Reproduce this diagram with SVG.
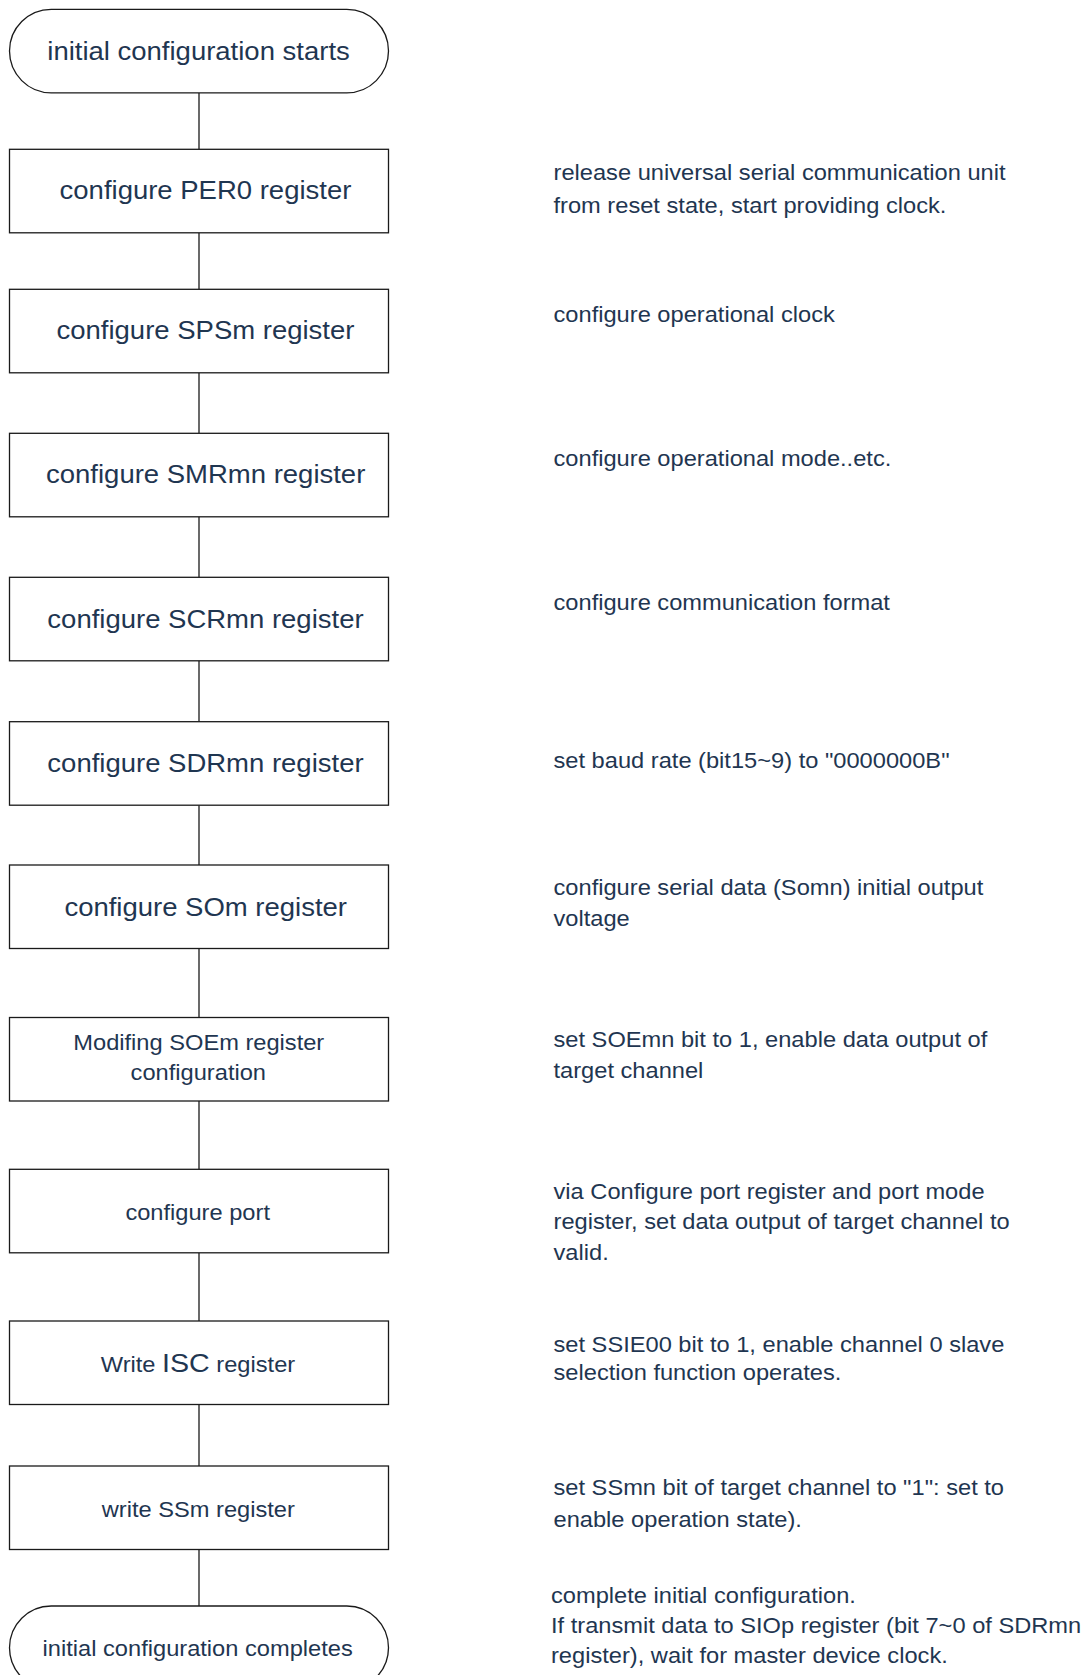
<svg xmlns="http://www.w3.org/2000/svg" width="1091" height="1675" viewBox="0 0 1091 1675">
<style>
.box{fill:#ffffff;stroke:#1a1a1a;stroke-width:1.3}
.ln{stroke:#1a1a1a;stroke-width:1.3;fill:none}
text{font-family:"Liberation Sans",Arial,sans-serif;fill:#1f3651}
.lg{font-size:25px;text-anchor:middle}
.sm{font-size:21.5px;text-anchor:middle}
.sd{font-size:21.5px}
</style>
<rect width="1091" height="1675" fill="#ffffff"/>
<g id="connectors">
<line class="ln" x1="199" y1="93" x2="199" y2="149.3"/>
<line class="ln" x1="199" y1="232.8" x2="199" y2="289.3"/>
<line class="ln" x1="199" y1="372.8" x2="199" y2="433.3"/>
<line class="ln" x1="199" y1="516.8" x2="199" y2="577.3"/>
<line class="ln" x1="199" y1="660.8" x2="199" y2="721.7"/>
<line class="ln" x1="199" y1="805.2" x2="199" y2="865"/>
<line class="ln" x1="199" y1="948.5" x2="199" y2="1017.5"/>
<line class="ln" x1="199" y1="1101" x2="199" y2="1169.3"/>
<line class="ln" x1="199" y1="1252.8" x2="199" y2="1321"/>
<line class="ln" x1="199" y1="1404.5" x2="199" y2="1466"/>
<line class="ln" x1="199" y1="1549.5" x2="199" y2="1606"/>
</g>
<g id="start">
<rect class="box" x="9.5" y="9.3" width="379" height="83.5" rx="41.7" ry="41.7"/>
<text class="lg" transform="scale(1.1 1)" x="180.5" y="60">initial configuration starts</text>
</g>
<g id="per0">
<rect class="box" x="9.5" y="149.3" width="379" height="83.5"/>
<text class="lg" transform="scale(1.1 1)" x="186.8" y="199.5">configure PER0 register</text>
</g>
<g id="spsm">
<rect class="box" x="9.5" y="289.3" width="379" height="83.5"/>
<text class="lg" transform="scale(1.1 1)" x="186.8" y="339.3">configure SPSm register</text>
</g>
<g id="smrmn">
<rect class="box" x="9.5" y="433.3" width="379" height="83.5"/>
<text class="lg" transform="scale(1.1 1)" x="187" y="482.7">configure SMRmn register</text>
</g>
<g id="scrmn">
<rect class="box" x="9.5" y="577.3" width="379" height="83.5"/>
<text class="lg" transform="scale(1.1 1)" x="186.8" y="628.3">configure SCRmn register</text>
</g>
<g id="sdrmn">
<rect class="box" x="9.5" y="721.7" width="379" height="83.5"/>
<text class="lg" transform="scale(1.1 1)" x="186.8" y="771.7">configure SDRmn register</text>
</g>
<g id="som">
<rect class="box" x="9.5" y="865" width="379" height="83.5"/>
<text class="lg" transform="scale(1.1 1)" x="187" y="916">configure SOm register</text>
</g>
<g id="soem">
<rect class="box" x="9.5" y="1017.5" width="379" height="83.5"/>
<text class="sm" transform="scale(1.1 1)" x="180.7" y="1050">Modifing SOEm register</text>
<text class="sm" transform="scale(1.1 1)" x="180.3" y="1080">configuration</text>
</g>
<g id="port">
<rect class="box" x="9.5" y="1169.3" width="379" height="83.5"/>
<text class="sm" transform="scale(1.1 1)" x="179.7" y="1220">configure port</text>
</g>
<g id="isc">
<rect class="box" x="9.5" y="1321" width="379" height="83.5"/>
<text class="sm" transform="scale(1.1 1)" x="180" y="1371.7">Write <tspan font-size="26">ISC</tspan> register</text>
</g>
<g id="ssm">
<rect class="box" x="9.5" y="1466" width="379" height="83.5"/>
<text class="sm" transform="scale(1.1 1)" x="180.3" y="1517.3">write SSm register</text>
</g>
<g id="end">
<rect class="box" x="9.5" y="1606" width="379" height="83.5" rx="41.7" ry="41.7"/>
<text class="sm" transform="scale(1.1 1)" x="179.7" y="1656">initial configuration completes</text>
</g>
<g id="notes">
<text class="sd" transform="scale(1.1 1)" x="503.2" y="180.3">release universal serial communication unit</text>
<text class="sd" transform="scale(1.1 1)" x="503.2" y="213">from reset state, start providing clock.</text>
<text class="sd" transform="scale(1.1 1)" x="503.2" y="322.3">configure operational clock</text>
<text class="sd" transform="scale(1.1 1)" x="503.2" y="465.7">configure operational mode..etc.</text>
<text class="sd" transform="scale(1.1 1)" x="503.2" y="610">configure communication format</text>
<text class="sd" transform="scale(1.1 1)" x="503.2" y="768">set baud rate (bit15~9) to "0000000B"</text>
<text class="sd" transform="scale(1.1 1)" x="503.2" y="895">configure serial data (Somn) initial output</text>
<text class="sd" transform="scale(1.1 1)" x="503.2" y="926">voltage</text>
<text class="sd" transform="scale(1.1 1)" x="503.2" y="1046.7">set SOEmn bit to 1, enable data output of</text>
<text class="sd" transform="scale(1.1 1)" x="503.2" y="1078.5">target channel</text>
<text class="sd" transform="scale(1.1 1)" x="503.2" y="1199.3">via Configure port register and port mode</text>
<text class="sd" transform="scale(1.1 1)" x="503.2" y="1229.3">register, set data output of target channel to</text>
<text class="sd" transform="scale(1.1 1)" x="503.2" y="1260">valid.</text>
<text class="sd" transform="scale(1.1 1)" x="503.2" y="1351.7">set SSIE00 bit to 1, enable channel 0 slave</text>
<text class="sd" transform="scale(1.1 1)" x="503.2" y="1380">selection function operates.</text>
<text class="sd" transform="scale(1.1 1)" x="503.2" y="1495">set SSmn bit of target channel to "1": set to</text>
<text class="sd" transform="scale(1.1 1)" x="503.2" y="1526.7">enable operation state).</text>
<text class="sd" transform="scale(1.1 1)" x="500.9" y="1603">complete initial configuration.</text>
<text class="sd" transform="scale(1.1 1)" x="500.9" y="1633">If transmit data to SIOp register (bit 7~0 of SDRmn</text>
<text class="sd" transform="scale(1.1 1)" x="500.9" y="1663">register), wait for master device clock.</text>
</g>
</svg>
